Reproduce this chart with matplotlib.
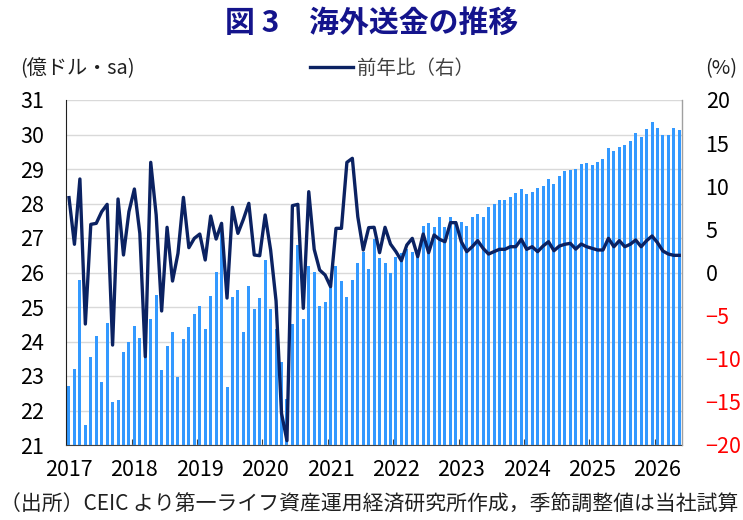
import matplotlib
matplotlib.use("Agg")
import matplotlib.pyplot as plt
from matplotlib.lines import Line2D
import numpy as np
import pandas as pd

plt.rcParams['font.family'] = ['Noto Sans CJK JP', 'DejaVu Sans']

# 月次データ 2017年1月〜2026年5月
months = pd.period_range("2017-01", "2026-05", freq="M")

# 海外送金（億ドル・季節調整値）
remit = [
    22.71, 23.19, 25.78, 21.58, 23.56, 24.17, 22.83, 24.53, 22.26, 22.30, 23.71, 23.98,
    24.44, 24.11, 23.60, 24.65, 25.36, 23.17, 23.87, 24.27, 22.96, 24.06, 24.41, 24.81,
    25.02, 24.36, 25.33, 26.02, 27.18, 22.68, 25.30, 25.48, 24.27, 25.60, 24.93, 25.27,
    26.35, 24.93, 24.36, 23.40, 22.32, 24.50, 26.79, 24.65, 26.18, 26.02, 25.02, 25.14,
    25.59, 26.18, 25.74, 25.30, 25.77, 26.27, 26.60, 26.11, 26.96, 26.41, 26.27, 26.00,
    26.44, 26.56, 26.67, 26.59, 26.48, 27.36, 27.43, 27.33, 27.60, 27.33, 27.62, 27.50,
    27.45, 27.36, 27.62, 27.69, 27.60, 27.91, 27.98, 28.10, 28.10, 28.18, 28.29, 28.42,
    28.27, 28.33, 28.46, 28.52, 28.70, 28.57, 28.79, 28.94, 28.97, 29.00, 29.14, 29.18,
    29.12, 29.21, 29.28, 29.61, 29.52, 29.63, 29.70, 29.82, 30.03, 29.92, 30.15, 30.36,
    30.18, 30.00, 29.98, 30.18, 30.12,
]

# 前年比（%、右軸）
yoy = [
    8.68, 3.27, 10.84, -5.97, 5.58, 5.70, 7.05, 7.90, -8.41, 8.52, 2.03, 7.05,
    9.68, 4.54, -9.76, 12.77, 6.67, -4.46, 5.24, -0.99, 2.22, 8.71, 2.88, 3.96,
    4.46, 1.45, 6.55, 3.88, 5.70, -2.96, 7.56, 4.54, 6.16, 8.02, 2.03, 1.95,
    6.67, 2.61, -3.30, -16.33, -19.50, 7.75, 7.90, -4.15, 9.37, 2.69, 0.29, -0.29,
    -1.64, 5.12, 5.12, 12.77, 13.24, 6.47, 2.61, 5.20, 5.24, 2.30, 5.24, 3.30,
    2.42, 1.37, 3.19, 3.96, 1.84, 4.46, 2.30, 4.35, 3.85, 3.57, 5.78, 5.78,
    3.57, 2.42, 2.99, 3.69, 2.80, 2.14, 2.42, 2.69, 2.69, 2.99, 2.99, 3.85,
    2.69, 2.99, 2.42, 3.07, 3.57, 2.53, 3.07, 3.27, 3.38, 2.72, 3.30, 2.99,
    2.80, 2.61, 2.61, 3.96, 2.99, 3.69, 2.99, 3.27, 3.77, 2.99, 3.69, 4.23,
    3.46, 2.49, 2.14, 1.99, 1.99,
]

years = [str(y) for y in range(2017, 2027)]

bar_color = '#3399FF'
line_color = '#0B2262'

x = np.arange(len(months))

fig = plt.figure(figsize=(7.43, 5.2), dpi=100)
ax = fig.add_axes([66 / 743, 1 - 445 / 520, 616 / 743, 345 / 520])
ax2 = ax.twinx()

ax.bar(x, remit, width=0.55, color=bar_color, zorder=2)
ax.set_ylim(21, 31)
ax.set_yticks(range(21, 32))
ax.set_xlim(-0.55, len(months) - 0.5)
ax.set_axisbelow(True)
ax.grid(axis='y', color='#d9d9d9', lw=1)

# 年の区切りに目盛り、ラベルは各年1月
ax.set_xticks(np.arange(11.5, len(months), 12))
ax.set_xticklabels([])
ax.tick_params(axis='x', which='major', direction='in', length=4, color='#404040')
ax.set_xticks(np.arange(0, len(months), 12), minor=True)
ax.set_xticklabels(years, minor=True)
ax.tick_params(axis='x', which='minor', length=0, pad=10, labelsize=15.5)
ax.tick_params(axis='y', length=0, pad=16, labelsize=15.5)

ax2.plot(x, yoy, color=line_color, lw=2.4, zorder=3)
ax2.set_ylim(-20, 20)
ax2.set_yticks(range(-20, 25, 5))
ax2.tick_params(axis='y', length=0, pad=17, labelsize=15.5)
for lab, v in zip(ax2.get_yticklabels(), range(-20, 25, 5)):
    if v < 0:
        lab.set_color('red')

for a in (ax, ax2):
    a.spines['top'].set_visible(False)
ax.spines['left'].set_color('#202020')
ax.spines['bottom'].set_color('#404040')
ax2.spines['left'].set_visible(False)
ax2.spines['bottom'].set_visible(False)
ax2.spines['right'].set_color('#a0a0a0')

fig.text(0.5, 1 - 23 / 520, '図 3　海外送金の推移', ha='center', va='center',
         fontsize=21.5, fontweight='bold', color='#14148C')
fig.text(20 / 743, 1 - 69 / 520, '(億ドル・sa)', ha='left', va='center',
         fontsize=14.5, color='#202020')
fig.text(737 / 743, 1 - 69 / 520, '(%)', ha='right', va='center',
         fontsize=14.5, color='#202020')

handle = Line2D([], [], color=line_color, lw=2.4)
fig.legend([handle], ['前年比（右）'], loc='center',
           bbox_to_anchor=(392 / 743, 1 - 68 / 520), frameon=False,
           fontsize=14, handlelength=2.2, handletextpad=0.2,
           labelcolor='#404040')

fig.text(0, 1 - 505 / 520,
         '（出所）CEIC より第一ライフ資産運用経済研究所作成，季節調整値は当社試算',
         ha='left', va='center', fontsize=15, color='#202020')

fig.savefig('out.png', dpi=100)
